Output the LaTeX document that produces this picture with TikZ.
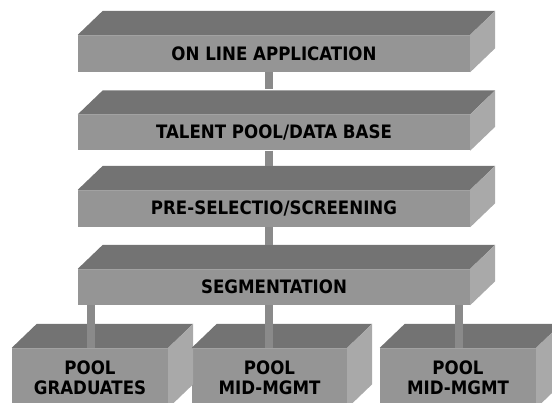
\documentclass[tikz,border=0pt]{standalone}
\usepackage{fontspec}
\setmainfont{DejaVu Sans Condensed}
\usetikzlibrary{calc}
\definecolor{topc}{HTML}{737373}
\definecolor{frontc}{HTML}{959595}
\definecolor{sidec}{HTML}{A9A9A9}
\definecolor{edgec}{HTML}{A2A2A2}
\definecolor{connc}{HTML}{8A8A8A}
\tikzset{
  front/.style={fill=frontc, inner sep=0pt, font=\bfseries\fontsize{18.5}{20}\selectfont, text=black, align=center},
  conn/.style={draw=connc, line width=8pt},
}
\newcommand{\slabfaces}[1]{%
  \fill[topc] (#1.north west) -- ++(25,-24) -- ($(#1.north east)+(25,-24)$) -- (#1.north east) -- cycle;
  \fill[sidec] (#1.north east) -- ++(25,-24) -- ($(#1.south east)+(25,-24)$) -- (#1.south east) -- cycle;
  \draw[edgec, line width=1pt] ($(#1.north west)+(0,0.5)$) -- ($(#1.north east)+(0,0.5)$);
}
\begin{document}
\begin{tikzpicture}[x=1pt,y=-1pt]
\useasboundingbox (0,0) rectangle (552,403);
\clip (0,0) rectangle (552,403);
% main slabs
\node[front, minimum width=392pt, minimum height=37pt] (b1) at (274,53.5) {ON LINE APPLICATION};
\node[front, minimum width=392pt, minimum height=36pt] (b2) at (274,132.5) {TALENT POOL/DATA BASE};
\node[front, minimum width=392pt, minimum height=37pt] (b3) at (274,208.5) {PRE-SELECTIO/SCREENING};
\node[front, minimum width=392pt, minimum height=36pt] (b4) at (274,287) {SEGMENTATION};
\foreach \n in {b1,b2,b3,b4} {\slabfaces{\n}}
% pools
\node[front, minimum width=156pt, minimum height=60pt] (p1) at (90,378) {POOL\\GRADUATES};
\node[front, minimum width=155pt, minimum height=60pt] (p2) at (269.5,378) {POOL\\MID-MGMT};
\node[front, minimum width=156pt, minimum height=60pt] (p3) at (458,378) {POOL\\MID-MGMT};
\foreach \n in {p1,p2,p3} {\slabfaces{\n}}
% connectors
\coordinate (cx) at (269,0);
\draw[conn] (b1.south -| cx) -- ($(b2.north -| cx)+(0,-25)$);
\draw[conn] (b2.south -| cx) -- ($(b3.north -| cx)+(0,-24)$);
\draw[conn] (b3.south -| cx) -- ($(b4.north -| cx)+(0,-24)$);
\coordinate (c1) at (90.5,0);
\coordinate (c3) at (458.5,0);
\draw[conn] (b4.south -| c1) -- (p1.north -| c1);
\draw[conn] (b4.south -| cx) -- (p2.north -| cx);
\draw[conn] (b4.south -| c3) -- (p3.north -| c3);
\end{tikzpicture}
\end{document}
